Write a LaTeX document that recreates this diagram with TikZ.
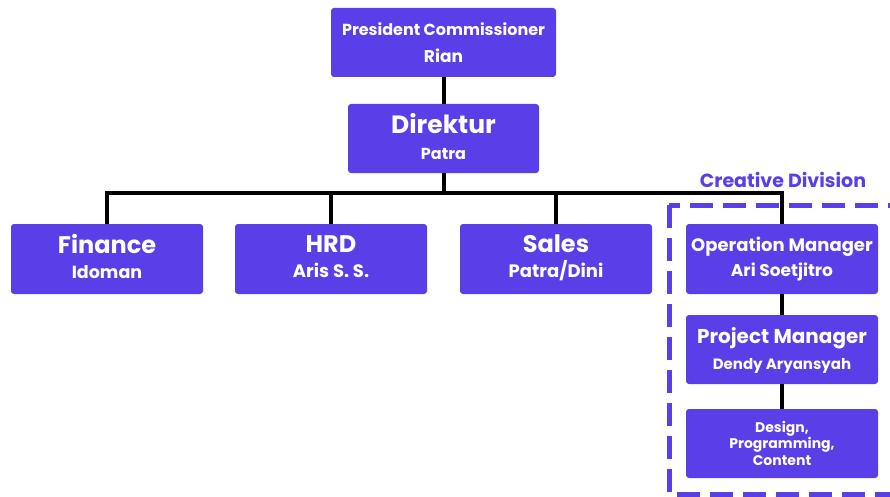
\documentclass[tikz,border=0pt]{standalone}
\usepackage{fontspec}
\setmainfont{Poppins}
\definecolor{boxpurple}{RGB}{90,62,232}
\newcommand{\fsz}[1]{\fontsize{#1}{#1}\selectfont}
\newcommand{\even}{\vphantom{Ay}}
\begin{document}
\begin{tikzpicture}[x=1pt,y=-1pt,
  box/.style={fill=boxpurple, rounded corners=3pt, text=white,
    align=center, minimum width=192pt, minimum height=70pt, inner sep=0pt},
  linesep/.style={font=\bfseries\fontsize{10}{#1}\selectfont},
  link/.style={line width=4pt}]
\useasboundingbox (0,0) rectangle (890,497);

% top of the chart
\node [box, linesep=27, minimum width=225pt, minimum height=69pt] (pres) at (443.5,42.5)
  {\fsz{16}\rule{0pt}{18pt}President Commissioner\even\\\fsz{17}Rian\even};
\node [box, linesep=26, minimum width=191pt, minimum height=69pt] (dir) at (443.5,138.5)
  {\fsz{25}Direktur\even\\\fsz{16}Patra\even};

% departments
\node [box, linesep=25] (fin) at (107,259) {\fsz{24}Finance\even\\\fsz{17.5}Idoman\even};
\node [box, linesep=25] (hrd) at (331,259) {\fsz{24}HRD\even\\\fsz{18}Aris S. S.\even};
\node [box, linesep=25] (sales) at (556,259) {\fsz{24}Sales\even\\\fsz{18}Patra/Dini\even};
\node [box, linesep=25] (ops) at (782,259) {\fsz{18}Operation Manager\even\\\fsz{17}Ari Soetjitro\even};
\node [box, linesep=26, minimum height=69pt] (pm) at (782,349.5)
  {\fsz{20}\rule{0pt}{18pt}Project Manager\even\\\fsz{15}Dendy Aryansyah\even};
\node [box, linesep=16.5, minimum height=69pt] (crew) at (782,443.5)
  {\fsz{14}\rule{0pt}{14pt}Design,\even\\\fsz{14}Programming,\even\\\fsz{14}Content\even};

% creative division frame
\draw [boxpurple, line width=5pt, dash pattern=on 23pt off 10pt] (669,205) rectangle (930,494);
\node [text=boxpurple, font=\bfseries\fsz{19}] (creative) at (783,180) {Creative Division};

% lines
\draw [link] (pres) -- (dir);
\draw [link] (dir.south) -- ++(0,20) coordinate (bus);
\draw [link] (fin.north) |- (bus) -| (ops.north);
\draw [link] (hrd.north) -- (hrd.north |- bus);
\draw [link] (sales.north) -- (sales.north |- bus);
\draw [link] (ops) -- (pm);
\draw [link] (pm) -- (crew);
\end{tikzpicture}
\end{document}
